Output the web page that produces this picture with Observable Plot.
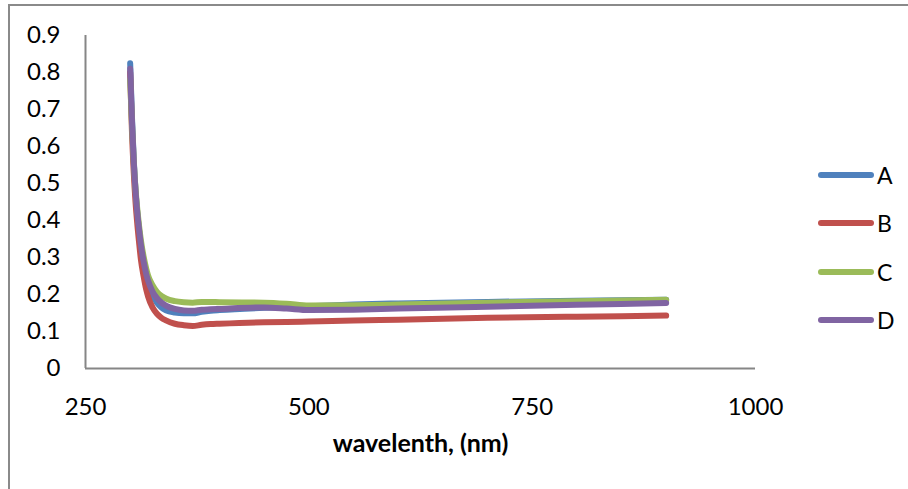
<!DOCTYPE html>
<html>
<head>
<meta charset="utf-8">
<script src="https://cdn.jsdelivr.net/npm/d3@7"></script>
<script src="https://cdn.jsdelivr.net/npm/@observablehq/plot@0.6"></script>
<style>
  html, body { margin: 0; padding: 0; background: #fff; }
  #wrap { position: relative; width: 908px; height: 489px; overflow: hidden; font-family: Lato, "Open Sans", sans-serif; }
  #frame { position: absolute; left: 8px; top: 4px; width: 1000px; height: 1000px; border-left: 2px solid #8a8a8a; border-top: 2px solid #8a8a8a; box-sizing: border-box; }
  #chart { position: absolute; left: 0; top: 0; }
  #legend { position: absolute; left: 818px; top: 0; }
  .item { position: absolute; left: 0; width: 90px; height: 26px; }
  .item .sw { position: absolute; left: 0; top: 10px; width: 56px; height: 6px; border-radius: 3px; }
  .item .lb { position: absolute; left: 59px; top: 0; font-size: 23px; line-height: 26px; color: #000; }
</style>
</head>
<body>
<div id="wrap">
  <div id="frame"></div>
  <div id="chart"></div>
  <div id="legend"></div>
</div>
<script>
const seriesNames = ["A", "B", "C", "D"];
const seriesColors = ["#4F81BD", "#C0504D", "#9BBB59", "#8064A2"];
const wavelengths = [300, 302, 304, 306, 308, 310, 312, 315, 318, 320, 325, 330, 335, 340, 350, 360, 370, 380, 390, 400, 450, 475, 500, 550, 600, 700, 800, 900];
const valuesA = [0.825, 0.68, 0.565, 0.48, 0.42, 0.372, 0.332, 0.285, 0.248, 0.23, 0.198, 0.178, 0.165, 0.157, 0.151, 0.149, 0.149, 0.153, 0.156, 0.158, 0.164, 0.166, 0.168, 0.173, 0.176, 0.18, 0.183, 0.186];
const valuesB = [0.80, 0.64, 0.53, 0.45, 0.39, 0.34, 0.295, 0.25, 0.213, 0.195, 0.165, 0.148, 0.137, 0.13, 0.121, 0.117, 0.115, 0.118, 0.12, 0.121, 0.125, 0.126, 0.127, 0.13, 0.132, 0.137, 0.14, 0.143];
const valuesC = [0.78, 0.66, 0.56, 0.485, 0.43, 0.385, 0.347, 0.303, 0.27, 0.252, 0.225, 0.207, 0.196, 0.189, 0.182, 0.179, 0.178, 0.18, 0.18, 0.179, 0.178, 0.175, 0.17, 0.171, 0.173, 0.178, 0.182, 0.186];
const valuesD = [0.81, 0.67, 0.56, 0.48, 0.42, 0.375, 0.335, 0.29, 0.255, 0.238, 0.208, 0.19, 0.178, 0.17, 0.161, 0.157, 0.156, 0.159, 0.16, 0.161, 0.165, 0.162, 0.158, 0.159, 0.162, 0.167, 0.172, 0.177];
const xTicks = [250, 500, 750, 1000];
const yTicks = [0, 0.1, 0.2, 0.3, 0.4, 0.5, 0.6, 0.7, 0.8, 0.9];
const xLabel = "wavelenth, (nm)";

const allValues = [valuesA, valuesB, valuesC, valuesD];
const data = [];
seriesNames.forEach((s, i) => {
  wavelengths.forEach((w, j) => data.push({series: s, wl: w, v: allValues[i][j]}));
});

const chart = Plot.plot({
  width: 908,
  height: 489,
  marginLeft: 85,
  marginRight: 153,
  marginTop: 35,
  marginBottom: 121,
  style: {fontFamily: "Lato, 'Open Sans', sans-serif", fontSize: "24px", color: "#000", background: "transparent"},
  x: {domain: [250, 1000], ticks: xTicks, tickSize: 0, tickPadding: 29, label: null, tickFormat: d => String(d)},
  y: {domain: [0, 0.9], ticks: yTicks, tickSize: 0, tickPadding: 25, label: null, tickFormat: d => String(+d.toFixed(1))},
  color: {domain: seriesNames, range: seriesColors},
  marks: [
    Plot.ruleX([250], {y1: 0, y2: 0.9, stroke: "#868686", strokeWidth: 2}),
    Plot.ruleY([0], {x1: 250, x2: 1000, stroke: "#868686", strokeWidth: 2}),
    Plot.line(data, {x: "wl", y: "v", z: "series", stroke: "series", strokeWidth: 6, curve: "monotone-x", strokeLinecap: "round", strokeLinejoin: "round"}),
    Plot.text([xLabel], {frameAnchor: "bottom", dy: 75, text: d => d, fontWeight: "bold", fontSize: 25, lineAnchor: "middle", fill: "#000"})
  ]
});
document.getElementById("chart").appendChild(chart);

const legend = document.getElementById("legend");
const legendY = [175, 223, 272, 320];
seriesNames.forEach((s, i) => {
  const it = document.createElement("div");
  it.className = "item";
  it.style.top = (legendY[i] - 13) + "px";
  it.innerHTML = `<div class="sw" style="background:${seriesColors[i]}"></div><div class="lb">${s}</div>`;
  legend.appendChild(it);
});
</script>
</body>
</html>
